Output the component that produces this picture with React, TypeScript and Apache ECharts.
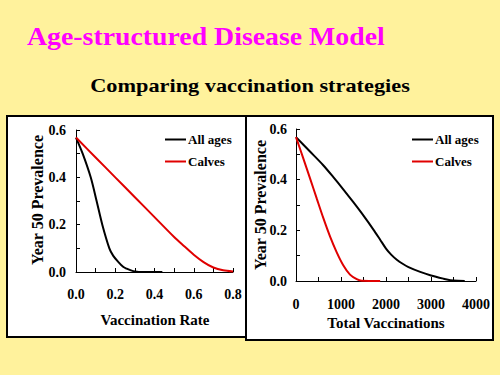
import React, { useEffect, useRef } from "react";
import * as echarts from "echarts";

// ---- Data ----
const seriesNames = ["All ages", "Calves"];

// Left panel: Year 50 prevalence vs vaccination rate
const rateAllX = [0, 0.034, 0.075, 0.105, 0.134, 0.17, 0.19, 0.215, 0.24, 0.258, 0.28, 0.3, 0.32, 0.44];
const rateAllY = [0.568, 0.5, 0.4, 0.3, 0.2, 0.1, 0.068, 0.043, 0.022, 0.014, 0.007, 0.002, 0.0, 0.0];
const rateCalvesX = [0, 0.1, 0.2, 0.3, 0.4, 0.5, 0.55, 0.6, 0.65, 0.7, 0.75, 0.8];
const rateCalvesY = [0.568, 0.484, 0.4, 0.316, 0.232, 0.148, 0.11, 0.073, 0.042, 0.019, 0.007, 0.002];

// Right panel: Year 50 prevalence vs total vaccinations
const totAllX = [0, 300, 600, 830, 1050, 1270, 1500, 1720, 1870, 2000, 2120, 2240, 2370, 2500, 2760, 3000, 3280, 3430, 3600, 3750];
const totAllY = [0.568, 0.513, 0.458, 0.41, 0.362, 0.312, 0.258, 0.203, 0.163, 0.128, 0.103, 0.084, 0.068, 0.055, 0.036, 0.022, 0.009, 0.003, 0.0005, 0.0];
const totCalvesX = [0, 160, 310, 460, 610, 760, 900, 1050, 1200, 1350, 1460, 1870];
const totCalvesY = [0.568, 0.485, 0.406, 0.326, 0.247, 0.174, 0.115, 0.062, 0.025, 0.007, 0.001, 0.0];

const yTicks = [0, 0.2, 0.4, 0.6];
const rateTicks = [0, 0.2, 0.4, 0.6, 0.8];
const totTicks = [0, 1000, 2000, 3000, 4000];

const mainTitle = "Age-structured Disease Model";
const subTitle = "Comparing vaccination strategies";
const yName = "Year 50 Prevalence";
const xName1 = "Vaccination Rate";
const xName2 = "Total Vaccinations";

const SERIF = '"Liberation Serif", "Times New Roman", Times, serif';
const BG = "#FFF29C";

const pairs = (xs: number[], ys: number[]) => xs.map((x, i) => [x, ys[i]]);

export default function App() {
  const ref = useRef<HTMLDivElement>(null);

  useEffect(() => {
    document.body.style.margin = "0";
    const chart = echarts.init(ref.current!, null, { renderer: "svg" });

    const axisCommon = {
      axisLine: { show: true, onZero: false, lineStyle: { color: "#000", width: 1 } },
      axisTick: { show: true, inside: true, length: 4, lineStyle: { color: "#000" } },
      minorTick: { show: true, splitNumber: 2, length: 4, lineStyle: { color: "#000" } },
      splitLine: { show: false },
      minorSplitLine: { show: false },
    };
    const labelStyle = { color: "#000", fontFamily: SERIF, fontWeight: "bold" as const, fontSize: 14 };

    const lineSeries = (name: string, color: string, data: number[][], idx: number) => ({
      type: "line",
      name,
      xAxisIndex: idx,
      yAxisIndex: idx,
      data,
      symbol: "none",
      smooth: 0.3,
      lineStyle: { color, width: 2 },
      itemStyle: { color },
      z: 5,
    });

    const legendCommon = {
      orient: "vertical",
      data: seriesNames,
      icon: "rect",
      itemWidth: 21,
      itemHeight: 2,
      itemGap: 9,
      selectedMode: false,
      textStyle: { color: "#000", fontFamily: SERIF, fontWeight: "bold", fontSize: 13, padding: [0, 0, 0, -3] },
      padding: 0,
    };

    const axisNameText = (text: string, x: number, y: number, vertical: boolean) => ({
      type: "text",
      x,
      y,
      rotation: vertical ? Math.PI / 2 : 0,
      style: {
        text,
        fill: "#000",
        font: `bold ${vertical ? 16 : 15}px ${SERIF}`,
        textAlign: "center",
        textVerticalAlign: "middle",
      },
    });

    chart.setOption({
      animation: false,
      backgroundColor: BG,
      graphic: [
        {
          type: "rect",
          z: -10,
          shape: { x: 7, y: 116, width: 239, height: 221 },
          style: { fill: "#fff", stroke: "#000", lineWidth: 2 },
        },
        {
          type: "rect",
          z: -10,
          shape: { x: 246, y: 116, width: 247, height: 224 },
          style: { fill: "#fff", stroke: "#000", lineWidth: 2 },
        },
        {
          type: "text",
          x: 27,
          y: 36,
          scaleX: 1.07,
          style: {
            text: mainTitle,
            fill: "#FF00FF",
            font: `bold 26px ${SERIF}`,
            textVerticalAlign: "middle",
          },
        },
        {
          type: "text",
          x: 250,
          y: 86,
          scaleX: 1.24,
          style: {
            text: subTitle,
            fill: "#000",
            font: `bold 18px ${SERIF}`,
            textAlign: "center",
            textVerticalAlign: "middle",
          },
        },
        axisNameText(xName1, 155, 320, false),
        axisNameText(xName2, 386, 323, false),
        axisNameText(yName, 37, 200, true),
        axisNameText(yName, 260, 205, true),
      ],
      grid: [
        { left: 76, right: 267, top: 130, bottom: 103, containLabel: false },
        { left: 296, right: 24, top: 129, bottom: 94, containLabel: false },
      ],
      legend: [
        { ...legendCommon, left: 165, top: 133 },
        { ...legendCommon, left: 412, top: 133 },
      ],
      xAxis: [
        {
          type: "value",
          gridIndex: 0,
          min: rateTicks[0],
          max: rateTicks[rateTicks.length - 1],
          interval: 0.2,
          ...axisCommon,
          axisLabel: { ...labelStyle, margin: 15, formatter: (v: number) => v.toFixed(1) },
        },
        {
          type: "value",
          gridIndex: 1,
          min: totTicks[0],
          max: totTicks[totTicks.length - 1],
          interval: 1000,
          ...axisCommon,
          axisLabel: { ...labelStyle, margin: 16, formatter: (v: number) => String(v) },
        },
      ],
      yAxis: [
        {
          type: "value",
          gridIndex: 0,
          min: yTicks[0],
          max: yTicks[yTicks.length - 1],
          interval: 0.2,
          ...axisCommon,
          axisLabel: { ...labelStyle, margin: 10, formatter: (v: number) => v.toFixed(1) },
        },
        {
          type: "value",
          gridIndex: 1,
          min: yTicks[0],
          max: yTicks[yTicks.length - 1],
          interval: 0.2,
          ...axisCommon,
          axisLabel: { ...labelStyle, margin: 9, formatter: (v: number) => v.toFixed(1) },
        },
      ],
      series: [
        lineSeries(seriesNames[0], "#000000", pairs(rateAllX, rateAllY), 0),
        lineSeries(seriesNames[1], "#E00000", pairs(rateCalvesX, rateCalvesY), 0),
        lineSeries(seriesNames[0], "#000000", pairs(totAllX, totAllY), 1),
        lineSeries(seriesNames[1], "#E00000", pairs(totCalvesX, totCalvesY), 1),
      ],
    });

    return () => chart.dispose();
  }, []);

  return (
    <div
      ref={ref}
      style={{ position: "absolute", left: 0, top: 0, width: 500, height: 375, background: BG }}
    />
  );
}
